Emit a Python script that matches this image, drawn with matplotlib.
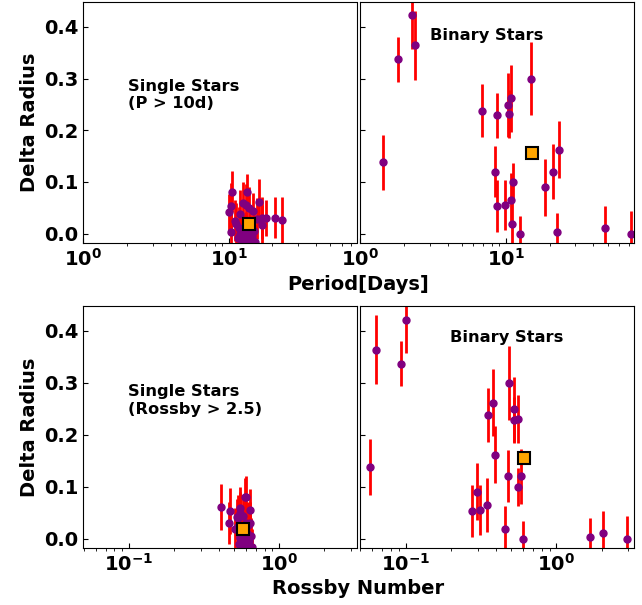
import matplotlib
matplotlib.use('Agg')
import matplotlib.pyplot as plt
import numpy as np

plt.rcParams['font.family'] = ['DejaVu Sans']
plt.rcParams['font.weight'] = 'bold'
plt.rcParams['axes.labelweight'] = 'bold'

# single stars: period (days), Rossby number, delta radius, error
single_period = [10.5, 10.3, 10.1, 10.3, 13.4, 12.5, 13.1, 12.0, 13.9, 14.6, 16.3, 11.3,
                 11.8, 11.6, 12.8, 15.2, 15.8, 16.9, 18.0, 17.1, 20.8, 23.2, 13.1, 12.3,
                 14.0, 12.0, 13.5, 11.0, 12.6, 14.4, 13.0, 11.9, 15.0, 12.2, 14.8, 13.3]
single_rossby = [0.60, 0.47, 0.52, 0.55, 0.59, 0.545, 0.635, 0.53, 0.55, 0.57, 0.41, 0.51,
                 0.61, 0.566, 0.594, 0.66, 0.626, 0.466, 0.60, 0.58, 0.64, 0.62, 0.57, 0.56,
                 0.545, 0.58, 0.62, 0.53, 0.59, 0.63, 0.55, 0.57, 0.65, 0.54, 0.60, 0.58]
single_dr = [0.081, 0.053, 0.041, 0.003, 0.081, 0.059, 0.056, 0.039, 0.050, 0.043, 0.061, 0.019,
             0.011, -0.008, -0.008, -0.017, 0.029, 0.030, 0.030, 0.016, 0.031, 0.026, 0.001, -0.010,
             0.010, 0.000, -0.015, 0.025, -0.012, -0.005, 0.002, -0.008, 0.005, -0.010, -0.015, -0.010]
single_err = [0.040, 0.045, 0.035, 0.040, 0.035, 0.040, 0.040, 0.045, 0.040, 0.035, 0.045, 0.040,
              0.040, 0.035, 0.040, 0.035, 0.040, 0.040, 0.035, 0.040, 0.040, 0.045, 0.040, 0.035,
              0.040, 0.035, 0.040, 0.040, 0.035, 0.040, 0.035, 0.040, 0.035, 0.040, 0.035, 0.040]

# binary stars
binary_period = [1.44, 1.83, 2.28, 2.40, 6.89, 8.71, 10.4, 10.5, 10.8, 15.0, 8.43, 8.67,
                 9.89, 10.9, 11.2, 11.1, 12.6, 18.6, 21.2, 23.2, 22.6, 48.0, 72.0]
binary_rossby = [0.0577, 0.0936, 0.101, 0.064, 0.35, 0.526, 0.523, 0.56, 0.38, 0.483, 0.477, 0.277,
                 0.311, 0.345, 0.553, 0.456, 0.60, 0.297, 0.586, 0.39, 1.66, 2.04, 2.96]
binary_dr = [0.138, 0.337, 0.422, 0.364, 0.238, 0.229, 0.249, 0.231, 0.262, 0.300, 0.120, 0.053,
             0.055, 0.065, 0.100, 0.018, 0.000, 0.090, 0.120, 0.162, 0.003, 0.011, 0.000]
binary_err = [0.053, 0.044, 0.065, 0.066, 0.052, 0.044, 0.062, 0.046, 0.065, 0.071, 0.050, 0.050,
              0.048, 0.052, 0.037, 0.044, 0.034, 0.055, 0.053, 0.055, 0.037, 0.042, 0.043]

W, H = 642, 605
fig = plt.figure(figsize=(W / 100, H / 100), dpi=100)


def box(x0, y0, x1, y1):
    return [x0 / W, 1 - y1 / H, (x1 - x0) / W, (y1 - y0) / H]


ax1 = fig.add_axes(box(83.5, 2, 356.5, 243))
ax2 = fig.add_axes(box(360, 2, 634, 243))
ax3 = fig.add_axes(box(83.5, 306, 356.5, 548))
ax4 = fig.add_axes(box(360, 306, 634, 548))


def panel(ax, x, y, err):
    ax.errorbar(x, y, yerr=err, fmt='o', color='purple', ms=5, ecolor='red',
                elinewidth=2, capsize=0, zorder=2)
    ax.plot(np.mean(x), np.mean(y), 's', color='orange', ms=9, mec='black',
            mew=1.5, zorder=3)
    ax.set_xscale('log')
    ax.set_ylim(-0.018, 0.448)
    ax.set_yticks([0.0, 0.1, 0.2, 0.3, 0.4])
    ax.tick_params(direction='in', labelsize=14)


panel(ax1, single_period, single_dr, single_err)
panel(ax2, binary_period, binary_dr, binary_err)
panel(ax3, single_rossby, single_dr, single_err)
panel(ax4, binary_rossby, binary_dr, binary_err)

for ax in (ax1, ax2):
    ax.set_xlim(1, 76)
for ax in (ax3, ax4):
    ax.set_xlim(0.0498, 3.27)
for ax in (ax2, ax4):
    ax.set_yticklabels([])
for ax in (ax1, ax3):
    ax.set_ylabel('Delta Radius', fontsize=14)

ax1.text(0.163, 0.615, 'Single Stars\n(P > 10d)', transform=ax1.transAxes,
         fontsize=11.7, fontweight='bold', va='center')
ax2.text(0.255, 0.86, 'Binary Stars', transform=ax2.transAxes,
         fontsize=11.7, fontweight='bold', va='center')
ax3.text(0.163, 0.61, 'Single Stars\n(Rossby > 2.5)', transform=ax3.transAxes,
         fontsize=11.7, fontweight='bold', va='center')
ax4.text(0.33, 0.87, 'Binary Stars', transform=ax4.transAxes,
         fontsize=11.7, fontweight='bold', va='center')

fig.text(358 / W, 1 - 285 / H, 'Period[Days]', ha='center', va='center',
         fontsize=14, fontweight='bold')
fig.text(358 / W, 1 - 588 / H, 'Rossby Number', ha='center', va='center',
         fontsize=14, fontweight='bold')

fig.savefig('out.png', dpi=100)
